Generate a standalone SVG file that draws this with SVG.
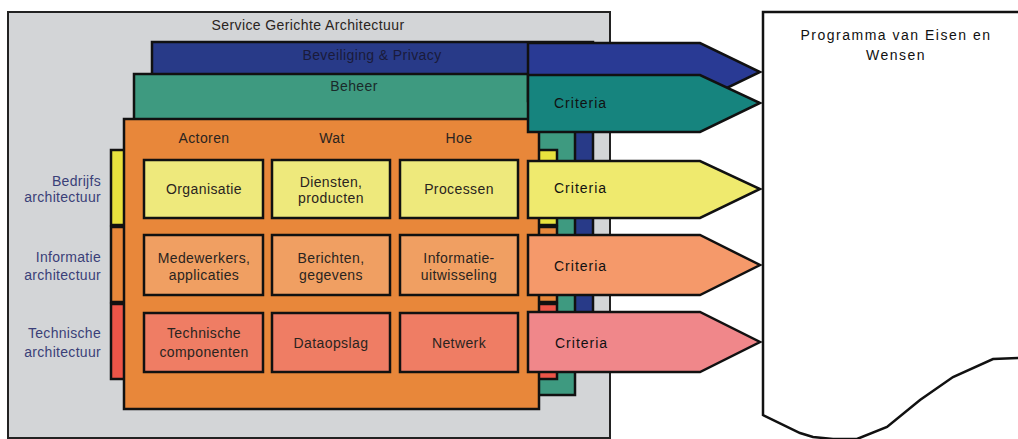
<svg xmlns="http://www.w3.org/2000/svg" width="1018" height="439" viewBox="0 0 1018 439">
<style>
  .s{stroke:#111;stroke-width:2.5;stroke-linejoin:miter}
  .t{font-family:"Liberation Sans",Arial,sans-serif;font-size:14px;letter-spacing:0.4px;fill:#2a2420;text-anchor:middle}
  .lab{font-family:"Liberation Sans",Arial,sans-serif;font-size:14px;letter-spacing:0.3px;fill:#3a3f78;text-anchor:end}
  .cr{font-family:"Liberation Sans",Arial,sans-serif;font-size:14px;letter-spacing:1px;fill:#111}
  .yb{fill:#eee97c}
  .ob{fill:#f09f62}
  .rb{fill:#ef7d64}
</style>
<rect width="1018" height="439" fill="#ffffff"/>
<g id="soa">
  <rect x="8" y="12" width="602" height="426" fill="#d3d5d7" stroke="#222" stroke-width="2"/>
  <text class="t" x="308" y="30" fill="#333">Service Gerichte Architectuur</text>
</g>
<g id="beveiliging">
  <rect class="s" x="152" y="42" width="441" height="320" fill="#283a88"/>
  <text class="t" x="372" y="60" style="fill:#1a1a3a">Beveiliging &amp; Privacy</text>
</g>
<g id="beheer">
  <rect class="s" x="134" y="74" width="441" height="321" fill="#3e9a80"/>
  <text class="t" x="354" y="91" style="fill:#1a2a2a">Beheer</text>
</g>
<g id="lagen">
  <rect class="s" x="111" y="150" width="446" height="75" fill="#e8e23e"/>
  <rect class="s" x="111" y="227" width="446" height="75" fill="#e8873a"/>
  <rect class="s" x="111" y="304" width="446" height="75" fill="#ee5548"/>
  <text class="lab" x="101" y="186">Bedrijfs</text>
  <text class="lab" x="101" y="202">architectuur</text>
  <text class="lab" x="101" y="262">Informatie</text>
  <text class="lab" x="101" y="280">architectuur</text>
  <text class="lab" x="101" y="338">Technische</text>
  <text class="lab" x="101" y="357">architectuur</text>
</g>
<g id="matrix">
  <rect class="s" x="124" y="119" width="415" height="290" fill="#e8873a"/>
  <text class="t" x="204" y="143">Actoren</text>
  <text class="t" x="332" y="143">Wat</text>
  <text class="t" x="459" y="143">Hoe</text>
</g>
<g id="organisatie"><rect class="s yb" x="144" y="160" width="119" height="58"/><text class="t" x="204" y="194">Organisatie</text></g>
<g id="diensten"><rect class="s yb" x="272" y="160" width="118" height="58"/><text class="t" x="331" y="187">Diensten,</text><text class="t" x="331" y="203">producten</text></g>
<g id="processen"><rect class="s yb" x="400" y="160" width="118" height="58"/><text class="t" x="459" y="194">Processen</text></g>
<g id="medewerkers"><rect class="s ob" x="144" y="235" width="119" height="60"/><text class="t" x="204" y="263">Medewerkers,</text><text class="t" x="204" y="280">applicaties</text></g>
<g id="berichten"><rect class="s ob" x="272" y="235" width="118" height="60"/><text class="t" x="331" y="263">Berichten,</text><text class="t" x="331" y="280">gegevens</text></g>
<g id="informatie"><rect class="s ob" x="400" y="235" width="118" height="60"/><text class="t" x="459" y="263">Informatie-</text><text class="t" x="459" y="280">uitwisseling</text></g>
<g id="technische"><rect class="s rb" x="144" y="313" width="119" height="59"/><text class="t" x="204" y="338">Technische</text><text class="t" x="204" y="357">componenten</text></g>
<g id="dataopslag"><rect class="s rb" x="272" y="313" width="118" height="59"/><text class="t" x="331" y="348">Dataopslag</text></g>
<g id="netwerk"><rect class="s rb" x="400" y="313" width="118" height="59"/><text class="t" x="459" y="348">Netwerk</text></g>
<g id="connectors">
  <polygon class="s" points="528,43 700,43 760,72 700,101 528,101" fill="#293a94"/>
  <polygon class="s" points="528,75 700,75 760,103 700,132 528,132" fill="#16847e"/>
  <text class="cr" x="554" y="108">Criteria</text>
  <polygon class="s" points="528,161 700,161 760,189 700,218 528,218" fill="#efea6e"/>
  <text class="cr" x="554" y="193">Criteria</text>
  <polygon class="s" points="528,235 700,235 760,265 700,295 528,295" fill="#f5996a"/>
  <text class="cr" x="554" y="271">Criteria</text>
  <polygon class="s" points="528,312 700,312 760,342 700,372 528,372" fill="#f0878a"/>
  <text class="cr" x="555" y="348">Criteria</text>
</g>
<g id="programma">
  <path d="M1020,12 L763,12 L763,415 L800,433 L813,437 L833,439 L857,439 L887,427 L920,400 L953,377 L993,359 L1020,358" fill="#ffffff" stroke="#111" stroke-width="2.5"/>
  <text class="t" x="896" y="40" style="letter-spacing:1.5px;fill:#111">Programma van Eisen en</text>
  <text class="t" x="896" y="60" style="letter-spacing:1.5px;fill:#111">Wensen</text>
</g>
</svg>
